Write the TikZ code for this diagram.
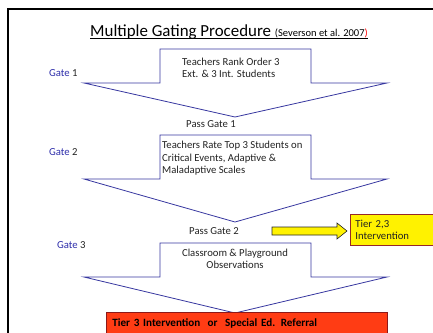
\documentclass[tikz,border=0pt]{standalone}
\usepackage{fontspec}
\setmainfont{Carlito}
\definecolor{arrowblue}{RGB}{55,55,160}
\definecolor{gateblue}{RGB}{45,45,170}
\definecolor{txt}{RGB}{35,35,35}
\definecolor{redfill}{RGB}{255,60,20}
\definecolor{redline}{RGB}{140,25,25}
\definecolor{yelline}{RGB}{150,40,40}
\tikzset{
  gatearrow/.style={draw=arrowblue, line width=0.8pt, fill=white, line join=miter},
  lbl/.style={anchor=base west, inner sep=0pt, text=txt, font=\fontsize{10.7}{12}\selectfont},
  clbl/.style={lbl, anchor=base},
  gatelbl/.style={lbl},
  yarrow/.style={draw=black!85, line width=0.6pt, fill=yellow},
  tierbox/.style={draw=yelline, line width=0.8pt, fill=yellow, anchor=north west, align=left,
    text width=90pt, inner xsep=5pt, inner ysep=0pt, minimum height=31pt, text=txt,
    font=\fontsize{10.7}{12}\selectfont},
  refbox/.style={draw=redline, line width=0.8pt, fill=redfill, anchor=north west, align=left,
    text width=269pt, inner xsep=6pt, inner ysep=0pt, minimum height=22pt, text=black,
    font=\bfseries\fontsize{11.1}{12}\selectfont}
}
\begin{document}
\begin{tikzpicture}[x=1pt,y=-1pt]
\useasboundingbox (0,0) rectangle (433,332);
\clip (0,0) rectangle (433,332);
% frame
\draw[line width=2pt] (8,345) -- (8,8.5) -- (445,8.5);
% title
\node[anchor=base west, inner sep=0pt, text=black] (title) at (90,36)
  {\fontsize{16.9}{20}\selectfont Multiple Gating Procedure \fontsize{10.5}{12}\selectfont(Severson et al. 2007\textcolor{red}{)}};
\draw[line width=0.7pt] ([yshift=-2.8pt]title.base west) -- ([yshift=-2.8pt]title.base east);
% gate arrows
\draw[gatearrow] (160,49) -- (311,49) -- (311,83) -- (387,83) -- (235,117) -- (84,83) -- (160,83) -- cycle;
\draw[gatearrow] (160,135) -- (311,135) -- (311,179) -- (387,179) -- (235,222) -- (84,179) -- (160,179) -- cycle;
\draw[gatearrow] (160,243) -- (311,243) -- (311,277) -- (387,277) -- (235,313) -- (84,277) -- (160,277) -- cycle;
% gate labels
\node[gatelbl] (g1) at (49,76) {\textcolor{gateblue}{Gate} 1};
\node[gatelbl] (g2) at (49,155) {\textcolor{gateblue}{Gate} 2};
\node[gatelbl] (g3) at (57,248) {\textcolor{gateblue}{Gate} 3};
% gate 1 text
\node[lbl] (t1a) at (182,65) {Teachers Rank Order 3};
\node[lbl] (t1b) at (182,77) {Ext. \& 3 Int. Students};
\node[lbl] (p1) at (186,127) {Pass Gate 1};
% gate 2 text
\node[lbl] (t2a) at (162,148) {Teachers Rate Top 3 Students on};
\node[lbl] (t2b) at (162,161) {Critical Events, Adaptive \&};
\node[lbl] (t2c) at (162,173) {Maladaptive Scales};
\node[lbl] (p2) at (189,234) {Pass Gate 2};
% gate 3 text
\node[clbl] (t3a) at (235,256) {Classroom \& Playground};
\node[clbl] (t3b) at (235,268) {Observations};
% yellow arrow and box
\draw[yarrow] (272,227) -- (337,227) -- (337,223) -- (347,231) -- (337,239) -- (337,235) -- (272,235) -- cycle;
\node[tierbox] (tier23) at (350,214) {Tier 2,3\\Intervention};
% referral box
\node[refbox] (ref) at (106,312) {Tier 3 Intervention\ \ or\ \ Special Ed. Referral};
\end{tikzpicture}
\end{document}
